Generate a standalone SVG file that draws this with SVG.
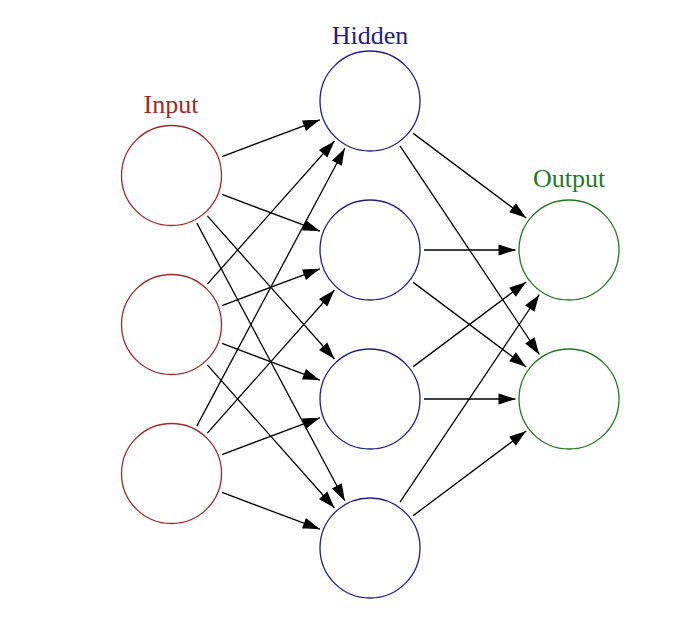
<svg xmlns="http://www.w3.org/2000/svg" width="678" height="626" viewBox="0 0 678 626">
<style>
.c{fill:none;stroke-width:1.3}
.in{stroke:#a02828}
.hd{stroke:#1e1e8c}
.out{stroke:#1f7a1f}
.e line{stroke:#000;stroke-width:1.3;marker-end:url(#ah)}
text{font-family:"Liberation Serif","DejaVu Serif",serif;font-size:26px;text-anchor:middle}
</style>
<defs>
<marker id="ah" markerUnits="userSpaceOnUse" viewBox="-18 -7 19 14" markerWidth="19" markerHeight="14" refX="0" refY="0" orient="auto">
<path d="M0,0 C-5,-1.6 -12,-4 -17,-5.6 L-17,5.6 C-12,4 -5,1.6 0,0 Z" fill="#000"/>
</marker>
</defs>
<rect width="678" height="626" fill="#fff"/>
<g id="connectors" class="e">
<line x1="222.06" y1="156.53" x2="319.91" y2="119.80"/>
<line x1="222.06" y1="194.47" x2="319.91" y2="231.20"/>
<line x1="207.36" y1="215.88" x2="334.47" y2="359.00"/>
<line x1="196.90" y1="223.16" x2="344.84" y2="500.78"/>
<line x1="207.36" y1="284.12" x2="334.47" y2="141.00"/>
<line x1="222.06" y1="305.53" x2="319.91" y2="268.80"/>
<line x1="222.06" y1="343.47" x2="319.91" y2="380.20"/>
<line x1="207.36" y1="364.88" x2="334.47" y2="508.00"/>
<line x1="196.90" y1="425.84" x2="344.84" y2="148.22"/>
<line x1="207.36" y1="433.12" x2="334.47" y2="290.00"/>
<line x1="222.06" y1="454.53" x2="319.91" y2="417.80"/>
<line x1="222.06" y1="492.47" x2="319.91" y2="529.20"/>
<line x1="413.23" y1="133.37" x2="526.17" y2="217.93"/>
<line x1="399.99" y1="145.91" x2="539.29" y2="354.51"/>
<line x1="424" y1="250" x2="515.5" y2="250"/>
<line x1="413.23" y1="282.37" x2="526.17" y2="366.93"/>
<line x1="413.23" y1="366.63" x2="526.17" y2="282.07"/>
<line x1="424" y1="399" x2="515.5" y2="399"/>
<line x1="399.99" y1="502.09" x2="539.29" y2="294.49"/>
<line x1="413.23" y1="515.63" x2="526.17" y2="431.07"/>
</g>
<g id="label-input"><text x="171" y="113" fill="#a02828">Input</text></g>
<g id="label-hidden"><text x="370" y="44" fill="#1e1e8c">Hidden</text></g>
<g id="label-output"><text x="569" y="187" fill="#1f7a1f">Output</text></g>
<g id="input1"><circle class="c in" cx="171.5" cy="175.5" r="50"/></g>
<g id="input2"><circle class="c in" cx="171.5" cy="324.5" r="50"/></g>
<g id="input3"><circle class="c in" cx="171.5" cy="473.5" r="50"/></g>
<g id="hidden1"><circle class="c hd" cx="370" cy="101" r="50"/></g>
<g id="hidden2"><circle class="c hd" cx="370" cy="250" r="50"/></g>
<g id="hidden3"><circle class="c hd" cx="370" cy="399" r="50"/></g>
<g id="hidden4"><circle class="c hd" cx="370" cy="548" r="50"/></g>
<g id="output1"><circle class="c out" cx="569" cy="250" r="50"/></g>
<g id="output2"><circle class="c out" cx="569" cy="399" r="50"/></g>
</svg>
